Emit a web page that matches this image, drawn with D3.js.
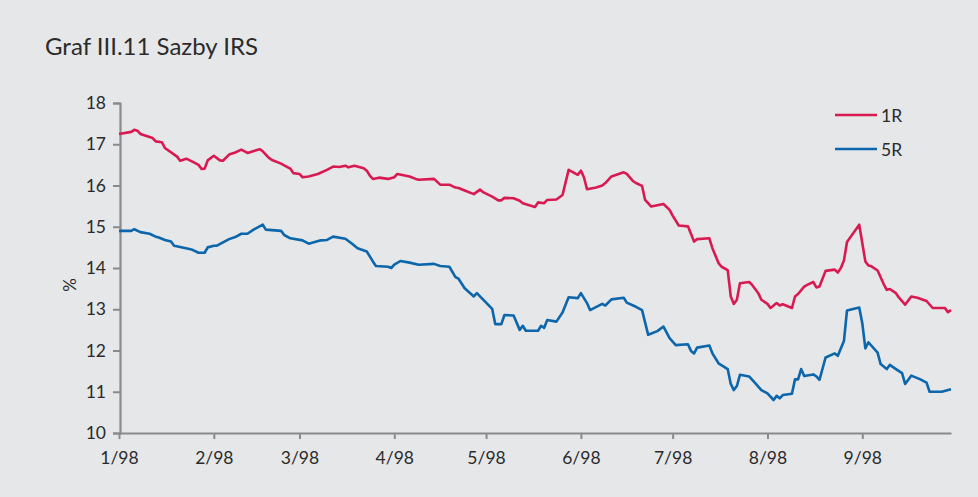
<!DOCTYPE html>
<html><head><meta charset="utf-8">
<script src="https://cdn.jsdelivr.net/npm/d3@7"></script>
<style>
html,body{margin:0;padding:0;background:#e6e7e9;}
svg{display:block;}
text{font-family:Lato,"Open Sans",sans-serif;fill:#2b2b2b;}
</style></head><body>
<svg id="chart" width="978" height="497"></svg>
<script>
const title = "Graf III.11 Sazby IRS";
const yLabel = "%";
const seriesNames = ["1R", "5R"];
const seriesColors = ["#d91a52", "#0b66ac"];
const yTicks = [10, 11, 12, 13, 14, 15, 16, 17, 18];
const xTickDates = ["1998-01-01","1998-02-01","1998-03-01","1998-04-01","1998-05-01","1998-06-01","1998-07-01","1998-08-01","1998-09-01"];
const xTickLabels = ["1/98","2/98","3/98","4/98","5/98","6/98","7/98","8/98","9/98"];
const xDomain = ["1998-01-01", "1998-09-30"];

const dates1R = ["01-01","01-05","01-06","01-07","01-08","01-12","01-13","01-15","01-16","01-20","01-21","01-23","01-25","01-27","01-28","01-29","01-30",
"02-01","02-03","02-04","02-06","02-08","02-10","02-12","02-16","02-17","02-19","02-20","02-23","02-24","02-26","02-27",
"03-01","03-02","03-04","03-07","03-10","03-12","03-14","03-16","03-17","03-19","03-22","03-23","03-24","03-25","03-27","03-30",
"04-01","04-02","04-06","04-08","04-09","04-14","04-16","04-19","04-21","04-22","04-24","04-27","04-29","04-30",
"05-03","05-05","05-06","05-07","05-10","05-12","05-13","05-17","05-18","05-20","05-21","05-24","05-26","05-28","05-31",
"06-01","06-02","06-03","06-06","06-08","06-09","06-11","06-15","06-16","06-18","06-19","06-21","06-22","06-24","06-26","06-28","06-30",
"07-01","07-03","07-06","07-08","07-09","07-13","07-14","07-16","07-17","07-19","07-20","07-21","07-22","07-23","07-26","07-27","07-29","07-30",
"08-01","08-02","08-04","08-05","08-06","08-09","08-10","08-11","08-13","08-14","08-16","08-17","08-18","08-20","08-23","08-24","08-25","08-26","08-27","08-31",
"09-02","09-03","09-04","09-06","09-08","09-09","09-10","09-12","09-13","09-15","09-17","09-19","09-22","09-24","09-28","09-29","09-30"];
const rates1R = [17.25,17.30,17.35,17.33,17.25,17.15,17.07,17.05,16.91,16.70,16.60,16.65,16.58,16.50,16.40,16.41,16.61,
16.72,16.61,16.60,16.75,16.80,16.87,16.79,16.88,16.83,16.67,16.62,16.53,16.49,16.41,16.30,
16.28,16.20,16.22,16.28,16.38,16.46,16.45,16.48,16.44,16.48,16.42,16.36,16.24,16.16,16.19,16.16,
16.20,16.28,16.22,16.16,16.14,16.16,16.02,16.02,15.95,15.94,15.88,15.79,15.90,15.84,
15.73,15.64,15.64,15.70,15.69,15.63,15.57,15.48,15.59,15.57,15.65,15.66,15.77,16.38,16.26,
16.36,16.20,15.91,15.95,16.00,16.06,16.22,16.32,16.28,16.11,16.06,15.99,15.65,15.49,15.52,15.55,15.41,
15.27,15.03,15.01,14.64,14.70,14.72,14.48,14.12,14.03,13.95,13.31,13.13,13.23,13.63,13.66,13.59,13.39,13.23,
13.13,13.03,13.15,13.09,13.12,13.03,13.31,13.37,13.55,13.59,13.66,13.53,13.55,13.93,13.96,13.89,14.00,14.18,14.63,15.05,
14.16,14.06,14.04,13.94,13.61,13.47,13.49,13.39,13.28,13.11,13.31,13.28,13.20,13.03,13.03,12.93,12.98];

const dates5R = ["01-01","01-05","01-06","01-08","01-11","01-13","01-14","01-16","01-18","01-19","01-21","01-24","01-25","01-27","01-29","01-30",
"02-01","02-02","02-06","02-08","02-10","02-12","02-14","02-17","02-18","02-23","02-24","02-26",
"03-02","03-04","03-08","03-10","03-12","03-16","03-18","03-20","03-23","03-25","03-26","03-30","03-31",
"04-01","04-03","04-06","04-09","04-14","04-16","04-19","04-21","04-22","04-24","04-27","04-28",
"05-03","05-04","05-06","05-07","05-10","05-12","05-13","05-14","05-18","05-19","05-20","05-21","05-24","05-26","05-28","05-31",
"06-01","06-03","06-04","06-08","06-09","06-11","06-15","06-16","06-19","06-21","06-23","06-26","06-28","06-30",
"07-02","07-06","07-07","07-08","07-09","07-13","07-14","07-16","07-19","07-20","07-21","07-22","07-23","07-26","07-28","07-30",
"08-01","08-03","08-04","08-05","08-06","08-09","08-10","08-11","08-12","08-13","08-16","08-17","08-18","08-20","08-23","08-24","08-26","08-27","08-31",
"09-01","09-02","09-03","09-06","09-07","09-09","09-10","09-12","09-14","09-15","09-17","09-20","09-22","09-23","09-27","09-30"];
const rates5R = [14.90,14.90,14.94,14.87,14.83,14.76,14.74,14.68,14.64,14.54,14.51,14.46,14.44,14.37,14.37,14.50,
14.54,14.54,14.70,14.75,14.83,14.83,14.93,15.05,14.93,14.90,14.80,14.72,
14.67,14.59,14.67,14.68,14.76,14.71,14.60,14.48,14.40,14.16,14.05,14.03,14.00,
14.08,14.17,14.13,14.08,14.10,14.05,14.03,13.78,13.74,13.51,13.31,13.39,
13.01,12.64,12.64,12.86,12.85,12.50,12.60,12.48,12.48,12.60,12.55,12.74,12.70,12.92,13.29,13.27,
13.39,13.15,12.98,13.13,13.09,13.24,13.28,13.16,13.06,12.98,12.38,12.47,12.58,12.30,
12.13,12.15,11.99,11.93,12.07,12.12,11.93,11.69,11.55,11.19,11.04,11.14,11.41,11.37,11.21,11.04,
10.96,10.80,10.90,10.84,10.92,10.95,11.30,11.30,11.55,11.38,11.42,11.37,11.29,11.83,11.93,11.87,12.23,12.97,13.04,
12.66,12.05,12.20,11.95,11.67,11.55,11.65,11.55,11.45,11.19,11.39,11.30,11.22,11.00,11.00,11.06];

(function () {
const parse = d3.timeParse("%Y-%m-%d");
const year = "1998-";
const series = [
  dates1R.map((d, i) => ({date: parse(year + d), value: rates1R[i]})),
  dates5R.map((d, i) => ({date: parse(year + d), value: rates5R[i]}))
];

const svg = d3.select("#chart");
const mLeft = 119, mRight = 951, mTop = 103, mBottom = 433;
const axisColor = "#8a8a8a";
const textColor = "#2e2e2e";

const x = d3.scaleTime().domain(xDomain.map(parse)).range([mLeft, mRight]);
const y = d3.scaleLinear().domain([10, 18]).range([mBottom, mTop]);

svg.append("rect").attr("width", 978).attr("height", 497).attr("fill", "#e6e7e9");

svg.append("text").attr("x", 45).attr("y", 55)
  .style("font-size", "24px").attr("fill", textColor).text(title);

// Y axis
const yAxis = svg.append("g").attr("transform", `translate(${mLeft + 1},0)`)
  .call(d3.axisLeft(y).tickValues(yTicks).tickSize(7).tickPadding(7).tickFormat(d3.format("d")));
yAxis.select(".domain").attr("stroke", axisColor).attr("stroke-width", 2.2);
yAxis.selectAll(".tick line").attr("stroke", axisColor).attr("stroke-width", 2);
yAxis.selectAll(".tick text").style("font-size", "17.5px").style("font-family", "Lato,'Open Sans',sans-serif").attr("fill", textColor);

// X axis
const xt = xTickDates.map(parse);
const xAxis = svg.append("g").attr("transform", `translate(0,${mBottom})`)
  .call(d3.axisBottom(x).tickValues(xt).tickSize(6).tickPadding(13)
    .tickFormat((d, i) => xTickLabels[i]).tickSizeOuter(0));
xAxis.select(".domain").attr("stroke", axisColor).attr("stroke-width", 2.2);
xAxis.selectAll(".tick line").attr("stroke", axisColor).attr("stroke-width", 2);
xAxis.selectAll(".tick text").style("font-size", "17.5px").style("font-family", "Lato,'Open Sans',sans-serif").attr("fill", textColor);

svg.append("text").attr("transform", "translate(76,285) rotate(-90)")
  .attr("text-anchor", "middle").style("font-size", "17px").attr("fill", textColor).text(yLabel);

const line = d3.line().x(d => x(d.date)).y(d => y(d.value));
series.forEach((s, i) => {
  svg.append("path").datum(s).attr("d", line)
    .attr("fill", "none").attr("stroke", seriesColors[i])
    .attr("stroke-width", 2.6).attr("stroke-linejoin", "round");
});

// Legend
const legY = [115, 149];
seriesNames.forEach((n, i) => {
  svg.append("line").attr("x1", 835).attr("x2", 877).attr("y1", legY[i]).attr("y2", legY[i])
    .attr("stroke", seriesColors[i]).attr("stroke-width", 2.6);
  svg.append("text").attr("x", 881).attr("y", legY[i] + 7)
    .style("font-size", "17.5px").attr("fill", textColor).text(n);
});
})();
</script>
</body></html>
